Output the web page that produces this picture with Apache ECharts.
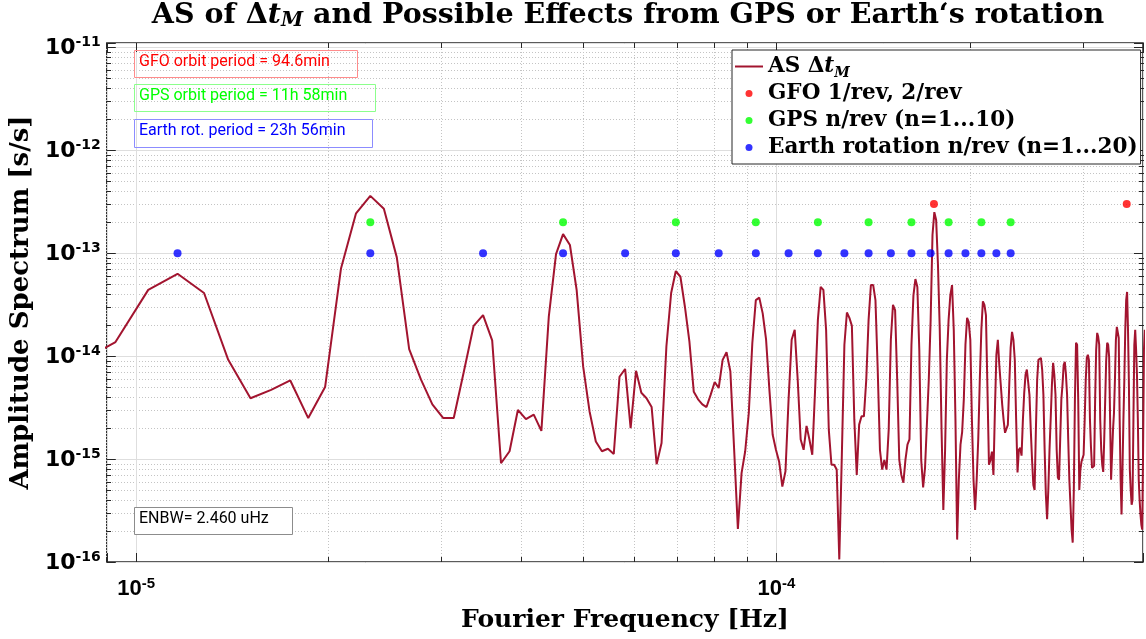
<!DOCTYPE html>
<html><head><meta charset="utf-8">
<script src="https://cdn.jsdelivr.net/npm/echarts@6/dist/echarts.min.js"></script>
<style>html,body{margin:0;padding:0;background:#fff}#c{width:1146px;height:639px}</style>
</head><body><div id="c"></div>
<script>
// ---- data ----
const binWidth = 1.16063e-6;   // Hz, spacing of the spectrum bins
const firstBin = 7;            // index of the first bin listed below
const asValues = [
  8.6e-15, 1.37e-14, 4.4e-14, 6.3e-14, 4.1e-14, 9.2e-15, 3.9e-15, 4.7e-15, 5.8e-15, 2.5e-15,
  5.0e-15, 7.1e-14, 2.44e-13, 3.6e-13, 2.7e-13, 9.1e-14, 1.17e-14, 5.9e-15, 3.4e-15, 2.5e-15,
  2.5e-15, 7.1e-15, 1.97e-14, 2.5e-14, 1.42e-14, 9.1e-16, 1.19e-15, 3.0e-15, 2.44e-15, 2.7e-15,
  1.88e-15, 2.42e-14, 9.8e-14, 1.53e-13, 1.2e-13, 4.4e-14, 7.9e-15, 2.9e-15, 1.48e-15, 1.19e-15,
  1.26e-15, 1.12e-15, 6.3e-15, 7.5e-15, 2.0e-15, 7.2e-15, 4.4e-15, 3.9e-15, 3.2e-15, 8.9e-16,
  1.43e-15, 1.24e-14, 4.1e-14, 6.7e-14, 5.9e-14, 3.0e-14, 1.39e-14, 4.5e-15, 3.8e-15, 3.4e-15,
  3.2e-15, 4.2e-15, 5.6e-15, 4.9e-15, 9.2e-15, 1.09e-14, 7.1e-15, 1.23e-15, 2.1e-16, 7.3e-16,
  1.19e-15, 2.8e-15, 1.34e-14, 3.5e-14, 3.7e-14, 2.6e-14, 1.45e-14, 4.7e-15, 1.72e-15, 1.23e-15,
  9.4e-16, 5.4e-16, 7.6e-16, 3.8e-15, 1.44e-14, 1.8e-14, 5.9e-15, 1.55e-15, 1.23e-15, 2.1e-15,
  1.55e-15, 1.1e-15, 4.7e-15, 2.25e-14, 4.7e-14, 4.4e-14, 1.8e-14, 1.93e-15, 8.8e-16, 8.8e-16,
  7.9e-16, 1.06e-16, 1.1e-15, 1.29e-14, 2.65e-14, 2.35e-14, 1.97e-14, 2.4e-15, 7.0e-16, 2.16e-15,
  2.6e-15, 2.6e-15, 5.9e-15, 2.25e-14, 4.9e-14, 4.9e-14, 3.5e-14, 7.4e-15, 1.23e-15, 7.9e-16,
  9.8e-16, 7.9e-16, 1.93e-15, 1.44e-14, 3.15e-14, 2.8e-14, 5.9e-15, 9.8e-16, 7.0e-16, 5.9e-16,
  9.8e-16, 1.38e-15, 1.55e-15, 1.29e-14, 3.9e-14, 5.6e-14, 4.7e-14, 1.15e-14, 9.8e-16, 5.3e-16,
  8.2e-16, 7.9e-16, 5.9e-15, 2.25e-14, 1.5e-13, 2.5e-13, 2.1e-13, 7.7e-14, 1.8e-14, 1.93e-15,
  3.2e-16, 1.23e-15, 9.2e-15, 2.25e-14, 3.9e-14, 4.9e-14, 1.8e-14, 2.4e-15, 1.65e-16, 6.3e-16,
  1.38e-15, 1.84e-15, 3.8e-15, 1.29e-14, 2.35e-14, 2.15e-14, 1.44e-14, 2.4e-15, 6.3e-16, 3.2e-16,
  6.3e-16, 1.55e-15, 5.9e-15, 1.8e-14, 3.4e-14, 3.15e-14, 2.5e-14, 4.7e-15, 8.8e-16, 9.8e-16,
  1.18e-15, 7.0e-16, 3.0e-15, 1.03e-14, 1.44e-14, 8.2e-15, 5.3e-15, 3.4e-15, 2.4e-15, 1.8e-15,
  1.84e-15, 2.15e-15, 5.3e-15, 1.21e-14, 1.72e-14, 1.44e-14, 9.2e-15, 2.4e-15, 7.4e-16, 1.23e-15,
  1.29e-15, 1.08e-15, 2.4e-15, 4.4e-15, 6.6e-15, 7.4e-15, 5.6e-15, 4.2e-15, 1.93e-15, 9.8e-16,
  5.6e-16, 5.0e-16, 1.93e-15, 5.9e-15, 9.2e-15, 9.2e-15, 9.6e-15, 7.4e-15, 4.2e-15, 1.23e-15,
  4.5e-16, 2.6e-16, 5.0e-16, 1.23e-15, 2.5e-15, 5.3e-15, 8.6e-15, 6.6e-15, 4.2e-15, 1.23e-15,
  6.6e-16, 6.3e-16, 1.55e-15, 3.8e-15, 5.3e-15, 8.2e-15, 8.8e-15, 6.6e-15, 4.2e-15, 1.55e-15,
  6.3e-16, 3.6e-16, 2.06e-16, 1.54e-16, 5.0e-16, 3.8e-15, 1.35e-14, 1.29e-14, 3.8e-15, 5.0e-16,
  7.9e-16, 9.4e-16, 9.8e-16, 1.1e-15, 2.4e-15, 5.9e-15, 9.6e-15, 1.03e-14, 9.2e-15, 2.4e-15,
  1.29e-15, 8.2e-16, 7.9e-16, 8.6e-16, 3.8e-15, 1.15e-14, 1.68e-14, 1.54e-14, 1.29e-14, 2.4e-15,
  1.23e-15, 8.8e-16, 7.5e-16, 1.55e-15, 3.8e-15, 9.2e-15, 1.35e-14, 1.29e-14, 9.8e-15, 2.4e-15,
  6.3e-16, 6.3e-16, 1.93e-15, 2.8e-15, 5.9e-15, 1.44e-14, 1.92e-14, 1.97e-14, 1.5e-14, 2.4e-15,
  6.3e-16, 2.9e-16, 7.9e-16, 2.4e-15, 5.9e-15, 1.8e-14, 3.5e-14, 4.2e-14, 1.8e-14, 5.3e-15,
  7.9e-16, 5.0e-16, 3.6e-16, 4.0e-16, 2.4e-15, 1.29e-14, 1.8e-14, 1.15e-14, 6.6e-15, 2.4e-15,
  6.3e-16, 4.0e-16, 2.9e-16, 2.3e-16, 2.06e-16, 1.23e-15, 1.15e-14, 1.8e-14
];
const gfoFreqs = [1.7618e-4, 3.5236e-4];
const gfoLevel = 3e-13;
const gpsFreqs = [2.3213e-5, 4.6425e-5, 6.9638e-5, 9.2851e-5, 1.16063e-4, 1.39276e-4, 1.62489e-4, 1.85701e-4, 2.08914e-4, 2.32127e-4];
const gpsLevel = 2e-13;
const earthFreqs = [1.16063e-5, 2.32127e-5, 3.4819e-5, 4.64253e-5, 5.80316e-5, 6.96379e-5, 8.12442e-5, 9.28505e-5, 1.04457e-4, 1.16063e-4,
  1.27670e-4, 1.39276e-4, 1.50882e-4, 1.62489e-4, 1.74095e-4, 1.85701e-4, 1.97308e-4, 2.08914e-4, 2.20520e-4, 2.32127e-4];
const earthLevel = 1e-13;
const seriesNames = ['AS Δt_M', 'GFO 1/rev, 2/rev', 'GPS n/rev (n=1...10)', 'Earth rotation n/rev (n=1...20)'];
const boxTexts = ['GFO orbit period = 94.6min', 'GPS orbit period = 11h 58min', 'Earth rot. period = 23h 56min', 'ENBW= 2.460 uHz'];
const titleText = ['AS of Δ', 't', 'M', ' and Possible Effects from GPS or Earth‘s rotation'];
const xName = 'Fourier Frequency [Hz]';
const yName = 'Amplitude Spectrum [s/s]';
const xMin = 9e-6, xMax = 3.736e-4, yMin = 1e-16, yMax = 1.1e-11;

// ---- helpers ----
const lineData = asValues.map((v, i) => [(firstBin + i) * binWidth, v]);
const dots = (fs, lvl) => fs.map(f => [f, lvl]);
const isPow10 = v => { const e = Math.log10(v); return Math.abs(e - Math.round(e)) < 1e-6; };
const powLabel = v => isPow10(v) ? '{b|10}{s|' + Math.round(Math.log10(v)) + '}' : '';
const minorList = (lo, hi, a, b) => { const out = []; for (let e = lo; e <= hi; e++) for (let m = 2; m <= 9; m++) { const v = m * Math.pow(10, e); if (v >= a * 0.999 && v <= b * 1.001) out.push(v); } return out; };
const minorX = minorList(-6, -4, xMin, xMax);
const minorY = minorList(-16, -12, yMin, yMax);

const serif = 'DejaVu Serif';
const gridBox = { left: 106, right: 2, top: 43, bottom: 77 };
const majorGrid = { show: true, lineStyle: { color: '#dedede', width: 1, type: 'solid' } };
const minorGrid = { show: true, lineStyle: { color: '#c4c4c4', width: 1, type: [1, 2] } };

function logAxis(extra) {
  return Object.assign({
    type: 'log', logBase: 10, scale: true,
    axisLine: { show: false },
    axisTick: { show: false },
    axisLabel: { show: false },
    splitLine: { show: false },
    minorTick: { show: false }, minorSplitLine: { show: false }
  }, extra);
}
const tickMajor = { show: true, inside: true, length: 9, lineStyle: { color: '#262626', width: 1 } };
const tickMinor = (vals) => ({ show: true, inside: true, length: 5, customValues: vals, lineStyle: { color: '#262626', width: 1 } });

const xLabel = {
  show: true, margin: 14, formatter: powLabel, color: '#000',
  rich: {
    b: { fontFamily: 'Liberation Sans', fontWeight: 'bold', fontSize: 22, lineHeight: 24, verticalAlign: 'bottom', color: '#000' },
    s: { fontFamily: 'Liberation Sans', fontWeight: 'bold', fontSize: 15, lineHeight: 15, verticalAlign: 'top', color: '#000' }
  }
};
const yLabel = {
  show: true, margin: 6, formatter: powLabel, color: '#000',
  rich: {
    b: { fontFamily: 'DejaVu Sans', fontWeight: 'bold', fontSize: 22, lineHeight: 24, verticalAlign: 'bottom', color: '#000' },
    s: { fontFamily: 'DejaVu Sans', fontWeight: 'bold', fontSize: 14, lineHeight: 14, verticalAlign: 'top', color: '#000' }
  }
};

const chart = echarts.init(document.getElementById('c'), null, { renderer: 'canvas' });
chart.setOption({
  animation: false,
  backgroundColor: '#fff',
  title: {
    left: 628, top: 1, textAlign: 'center', padding: 0,
    text: '{b|' + titleText[0] + '}{i|' + titleText[1] + '}{sub|' + titleText[2] + '}{b|' + titleText[3] + '}',
    textStyle: {
      rich: {
        b: { fontFamily: serif, fontWeight: 'bold', fontSize: 28.5, lineHeight: 30, color: '#000' },
        i: { fontFamily: serif, fontWeight: 'bold', fontStyle: 'italic', fontSize: 28.5, lineHeight: 30, color: '#000' },
        sub: { fontFamily: serif, fontWeight: 'bold', fontStyle: 'italic', fontSize: 20, lineHeight: 8, verticalAlign: 'bottom', color: '#000' }
      }
    }
  },
  grid: [
    Object.assign({ show: true, borderColor: '#262626', borderWidth: 1.5, backgroundColor: 'transparent' }, gridBox),
    Object.assign({ show: false }, gridBox)
  ],
  xAxis: [
    logAxis({ gridIndex: 0, position: 'bottom', min: xMin, max: xMax, axisTick: tickMajor, axisLabel: xLabel, splitLine: majorGrid,
      name: xName, nameLocation: 'middle', nameGap: 46,
      nameTextStyle: { fontFamily: serif, fontWeight: 'bold', fontSize: 25, color: '#000' } }),
    logAxis({ gridIndex: 0, position: 'top', min: xMin, max: xMax, axisTick: tickMajor }),
    logAxis({ gridIndex: 1, position: 'bottom', min: xMin, max: xMax, axisTick: tickMinor(minorX), splitLine: minorGrid }),
    logAxis({ gridIndex: 1, position: 'top', min: xMin, max: xMax, axisTick: tickMinor(minorX) })
  ],
  yAxis: [
    logAxis({ gridIndex: 0, position: 'left', min: yMin, max: yMax, axisTick: tickMajor, axisLabel: yLabel, splitLine: majorGrid,
      name: yName, nameLocation: 'middle', nameGap: 68,
      nameTextStyle: { fontFamily: serif, fontWeight: 'bold', fontSize: 26, color: '#000' } }),
    logAxis({ gridIndex: 0, position: 'right', min: yMin, max: yMax, axisTick: tickMajor }),
    logAxis({ gridIndex: 1, position: 'left', min: yMin, max: yMax, axisTick: tickMinor(minorY), splitLine: minorGrid }),
    logAxis({ gridIndex: 1, position: 'right', min: yMin, max: yMax, axisTick: tickMinor(minorY) })
  ],
  legend: {
    orient: 'vertical', left: 732, top: 50,
    padding: [3, 3, 3, 3], itemGap: 0, itemWidth: 28, itemHeight: 7, symbolKeepAspect: true,
    backgroundColor: '#fff', borderColor: '#262626', borderWidth: 1, borderRadius: 0,
    data: [
      { name: seriesNames[0], icon: 'path://M0 0H14V1H0Z' },
      seriesNames[1], seriesNames[2], seriesNames[3]
    ],
    formatter: name => name === seriesNames[0]
      ? '{b|AS Δ}{i|t}{sub|M}'
      : '{b|' + name + '}',
    textStyle: {
      fontFamily: serif, fontWeight: 'bold', fontSize: 21.5, lineHeight: 27,
      rich: {
        b: { fontFamily: serif, fontWeight: 'bold', fontSize: 21.5, lineHeight: 27, color: '#000' },
        i: { fontFamily: serif, fontWeight: 'bold', fontStyle: 'italic', fontSize: 21.5, lineHeight: 27, color: '#000' },
        sub: { fontFamily: serif, fontWeight: 'bold', fontStyle: 'italic', fontSize: 14, lineHeight: 15, verticalAlign: 'bottom', color: '#000' }
      }
    }
  },
  graphic: [
    { type: 'rect', left: 134, top: 50, shape: { width: 223, height: 27 }, style: { fill: 'transparent', stroke: '#ff8c8c', lineWidth: 1 }, z: 10 },
    { type: 'text', left: 139, top: 54, style: { text: boxTexts[0], fill: '#ff0000', font: '16px Roboto' }, z: 10 },
    { type: 'rect', left: 134, top: 84, shape: { width: 241, height: 27 }, style: { fill: 'transparent', stroke: '#8cff8c', lineWidth: 1 }, z: 10 },
    { type: 'text', left: 139, top: 88, style: { text: boxTexts[1], fill: '#00ff00', font: '16px Roboto' }, z: 10 },
    { type: 'rect', left: 134, top: 119, shape: { width: 238, height: 28 }, style: { fill: 'transparent', stroke: '#8c8cff', lineWidth: 1 }, z: 10 },
    { type: 'text', left: 139, top: 123, style: { text: boxTexts[2], fill: '#0000ff', font: '16px Roboto' }, z: 10 },
    { type: 'rect', left: 134, top: 507, shape: { width: 158, height: 27 }, style: { fill: '#fff', stroke: '#8c8c8c', lineWidth: 1 }, z: 10 },
    { type: 'text', left: 139, top: 511, style: { text: boxTexts[3], fill: '#000', font: '16px Roboto' }, z: 10 }
  ],
  series: [
    { name: seriesNames[0], type: 'line', xAxisIndex: 0, yAxisIndex: 0, data: lineData, symbol: 'none', showSymbol: false,
      lineStyle: { color: '#a2142f', width: 2 }, itemStyle: { color: '#a2142f' }, clip: true, z: 3 },
    { name: seriesNames[1], type: 'scatter', xAxisIndex: 0, yAxisIndex: 0, data: dots(gfoFreqs, gfoLevel), symbol: 'circle', symbolSize: 8, itemStyle: { color: '#ff0000' }, z: 4 },
    { name: seriesNames[2], type: 'scatter', xAxisIndex: 0, yAxisIndex: 0, data: dots(gpsFreqs, gpsLevel), symbol: 'circle', symbolSize: 8, itemStyle: { color: '#00ff00' }, z: 4 },
    { name: seriesNames[3], type: 'scatter', xAxisIndex: 0, yAxisIndex: 0, data: dots(earthFreqs, earthLevel), symbol: 'circle', symbolSize: 8, itemStyle: { color: '#0000ff' }, z: 4 }
  ]
});
</script>
</body></html>
